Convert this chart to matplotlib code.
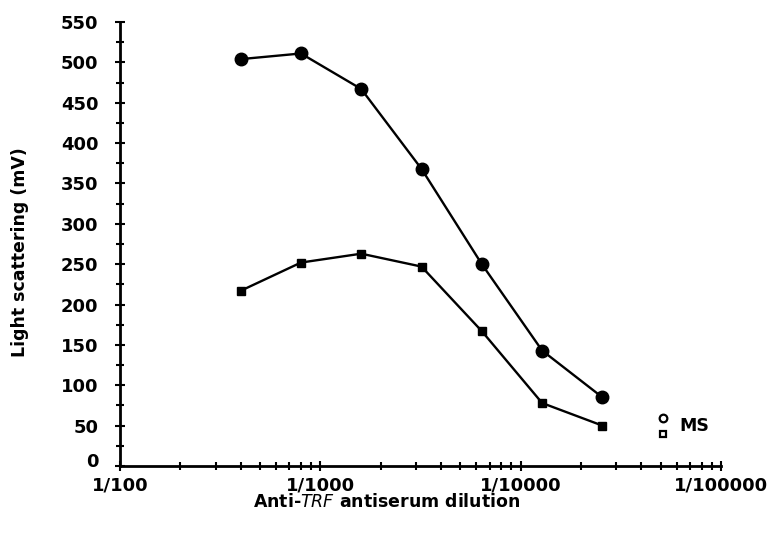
import matplotlib
matplotlib.use("Agg")
import matplotlib.pyplot as plt
import matplotlib.transforms as mtransforms
from matplotlib.ticker import FixedLocator, LogLocator, NullFormatter, MultipleLocator

dilution = [400, 800, 1600, 3200, 6400, 12800, 25600]
circles = [504, 511, 467, 368, 250, 143, 85]
squares = [217, 252, 263, 247, 167, 78, 50]
ms_dilution = 51200
ms_circle = 60
ms_square = 40

xticks = [100, 1000, 10000, 100000]
xticklabels = ["1/100", "1/1000", "1/10000", "1/100000"]
yticks = [0, 50, 100, 150, 200, 250, 300, 350, 400, 450, 500, 550]

plt.rcParams['font.family'] = ['DejaVu Sans']
fig = plt.figure(figsize=(7.77, 5.40), dpi=100)
ax = fig.add_axes([120/777, 1-466/540, (721-120)/777, (466-22)/540])

ax.plot(dilution, circles, color='black', lw=1.7, marker='o', ms=9)
ax.plot(dilution, squares, color='black', lw=1.7, marker='s', ms=6)
ax.plot([ms_dilution], [ms_circle], marker='o', ms=5.5, mfc='white', mec='black', mew=1.6, ls='none')
ax.plot([ms_dilution], [ms_square], marker='s', ms=5, mfc='white', mec='black', mew=1.6, ls='none')
ax.annotate("MS", xy=(ms_dilution, (ms_circle + ms_square) / 2), xytext=(12, 0),
            textcoords='offset points', va='center', ha='left', fontsize=12.5, fontweight='bold')

ax.set_xscale('log')
ax.set_xlim(100, 100000)
ax.set_ylim(0, 550)
ax.xaxis.set_major_locator(FixedLocator(xticks))
ax.set_xticklabels(xticklabels)
ax.xaxis.set_minor_locator(LogLocator(base=10, subs=range(2, 10)))
ax.xaxis.set_minor_formatter(NullFormatter())
ax.set_yticks(yticks)
ax.yaxis.set_minor_locator(MultipleLocator(25))

for s in ['top', 'right']:
    ax.spines[s].set_visible(False)
for s in ['left', 'bottom']:
    ax.spines[s].set_linewidth(2)

ax.tick_params(axis='both', which='both', direction='inout', width=1.5, color='black')
ax.tick_params(axis='both', which='major', length=7, labelsize=13)
ax.tick_params(axis='both', which='minor', length=6)
ax.tick_params(axis='y', pad=12)
ax.tick_params(axis='x', pad=4)
for lab in ax.get_xticklabels() + ax.get_yticklabels():
    lab.set_fontweight('bold')

# raise the "0" label slightly, as in the reference
fig.canvas.draw()
zero_lab = ax.get_yticklabels()[0]
zero_lab.set_transform(zero_lab.get_transform() + mtransforms.ScaledTranslation(0, 6/100, fig.dpi_scale_trans))

fig.text(387/777, 1-502/540, r"Anti-$\mathit{TRF}$ antiserum dilution", ha='center', va='center',
         fontsize=12.5, fontweight='bold')
fig.text(20/777, 1-252/540, "Light scattering (mV)", rotation=90, ha='center', va='center',
         fontsize=12.5, fontweight='bold')

fig.savefig("out.png", dpi=100)
